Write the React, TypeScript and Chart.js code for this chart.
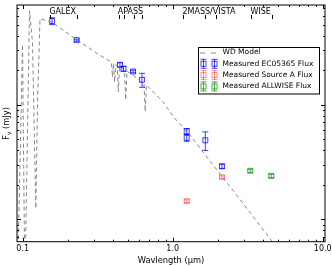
import React, { useEffect, useRef } from "react";
import { Chart, registerables } from "chart.js";
Chart.register(...registerables);

// WD model spectrum (wavelength in micron, flux in mJy)
const modelWave = [0.093, 0.0997, 0.1028, 0.1044, 0.111, 0.1162, 0.1223, 0.1256, 0.1304, 0.1568, 0.23, 0.3275, 0.39, 0.397, 0.403, 0.41, 0.4175, 0.4266, 0.434, 0.4418, 0.477, 0.486, 0.4958, 0.5437, 0.6437, 0.656, 0.668, 0.862, 1.02, 1.324, 1.857, 2.81, 5.19];
const modelFlux = [0.044, 3.36, 0.054, 0.054, 6.59, 3.49, 0.1244, 1.06, 5.62, 5.25, 3.67, 2.7, 2.35, 1.74, 2.3, 1.58, 2.23, 2.19, 1.29, 2.15, 2.0, 1.1, 1.96, 1.81, 1.52, 0.87, 1.49, 1.06, 0.773, 0.53, 0.298, 0.149, 0.052];

// Measured EC05365
const ecWave = [0.157, 0.229, 0.445, 0.47, 0.544, 0.624, 1.24, 1.24, 1.65, 2.13];
const ecFlux = [5.37, 3.66, 2.23, 2.06, 1.95, 1.65, 0.585, 0.514, 0.489, 0.29];
const ecErr = [0.37, 0.08, 0.09, 0.1, 0.05, 0.23, 0.035, 0.035, 0.09, 0.012];

// Measured Source A
const srcWave = [1.24, 2.13];
const srcFlux = [0.144, 0.233];
const srcErr = [0.004, 0.006];

// Measured ALLWISE
const wiseWave = [3.29, 4.54];
const wiseFlux = [0.265, 0.239];
const wiseErr = [0.008, 0.008];

// Photometric band markers along the top
const bandNames = ["GALEX", "APASS", "2MASS/VISTA", "WISE"];
const bandWaves = [[0.153, 0.231], [0.437, 0.47, 0.551, 0.623], [1.18, 1.64, 1.95], [3.35, 4.6]];

const xTickLabels = ["0.1", "1.0", "10.0"];
const legendLabels = ["WD Model", "Measured EC05365 Flux", "Measured Source A Flux", "Measured ALLWISE Flux"];

const X_MIN = 0.0916, X_MAX = 10.36, Y_MIN = 0.0637, Y_MAX = 7.42;
const FONT = "'DejaVu Sans', sans-serif";
const BLUE = "rgba(0,0,255,0.75)";
const RED = "rgba(255,0,0,0.45)";
const GREEN = "rgba(0,140,0,0.7)";
const GRAY = "#888888";

const groups = [
  { wave: ecWave, flux: ecFlux, err: ecErr, color: BLUE },
  { wave: srcWave, flux: srcFlux, err: srcErr, color: RED },
  { wave: wiseWave, flux: wiseFlux, err: wiseErr, color: GREEN },
];

function drawErrMarker(ctx: CanvasRenderingContext2D, x: number, y1: number, y2: number, y: number, color: string) {
  ctx.strokeStyle = color;
  ctx.lineWidth = 1;
  ctx.beginPath();
  ctx.moveTo(x, y1); ctx.lineTo(x, y2);
  ctx.moveTo(x - 3, y1); ctx.lineTo(x + 3, y1);
  ctx.moveTo(x - 3, y2); ctx.lineTo(x + 3, y2);
  ctx.stroke();
  ctx.strokeRect(x - 2.5, y - 2.5, 5, 5);
}

const decor = {
  id: "decor",
  afterDatasetsDraw(chart: any) {
    const ctx: CanvasRenderingContext2D = chart.ctx;
    const xs = chart.scales.x, ys = chart.scales.y;
    const a = chart.chartArea;
    ctx.save();
    ctx.beginPath();
    ctx.rect(a.left, a.top, a.right - a.left, a.bottom - a.top);
    ctx.clip();
    ctx.lineWidth = 1;
    for (const g of groups) {
      ctx.strokeStyle = g.color;
      ctx.beginPath();
      g.wave.forEach((w, i) => {
        const px = xs.getPixelForValue(w);
        const p1 = ys.getPixelForValue(g.flux[i] + g.err[i]);
        const p2 = ys.getPixelForValue(g.flux[i] - g.err[i]);
        ctx.moveTo(px, p1); ctx.lineTo(px, p2);
        ctx.moveTo(px - 3, p1); ctx.lineTo(px + 3, p1);
        ctx.moveTo(px - 3, p2); ctx.lineTo(px + 3, p2);
      });
      ctx.stroke();
    }
    ctx.restore();
  },
  afterDraw(chart: any) {
    const ctx: CanvasRenderingContext2D = chart.ctx;
    const xs = chart.scales.x, ys = chart.scales.y;
    const a = chart.chartArea;
    ctx.save();
    // frame
    ctx.strokeStyle = "#000";
    ctx.lineWidth = 1;
    ctx.strokeRect(a.left, a.top, a.right - a.left, a.bottom - a.top);
    // ticks
    ctx.beginPath();
    for (let d = -2; d <= 1; d++) {
      for (let m = 1; m <= 9; m++) {
        const v = m * Math.pow(10, d);
        const len = m === 1 ? 4 : 2;
        if (v >= X_MIN && v <= X_MAX) {
          const px = Math.round(xs.getPixelForValue(v)) + 0.5;
          ctx.moveTo(px, a.bottom); ctx.lineTo(px, a.bottom - len);
          ctx.moveTo(px, a.top); ctx.lineTo(px, a.top + len);
        }
        if (v >= Y_MIN && v <= Y_MAX) {
          const py = Math.round(ys.getPixelForValue(v)) + 0.5;
          ctx.moveTo(a.left, py); ctx.lineTo(a.left + len, py);
          ctx.moveTo(a.right, py); ctx.lineTo(a.right - len, py);
        }
      }
    }
    ctx.stroke();

    // band labels
    ctx.fillStyle = "#000";
    ctx.font = `8px ${FONT}`;
    ctx.textBaseline = "middle";
    ctx.textAlign = "left";
    ctx.beginPath();
    bandNames.forEach((name, i) => {
      const ws = bandWaves[i];
      const x0 = xs.getPixelForValue(ws[0]);
      ctx.fillText(name, x0 - 1, a.top + 6.5);
      ws.forEach((w) => {
        const px = Math.round(xs.getPixelForValue(w)) + 0.5;
        ctx.moveTo(px, a.top + 10); ctx.lineTo(px, a.top + 14);
      });
    });
    ctx.stroke();

    // y-axis label F_nu (mJy)
    ctx.save();
    ctx.translate(7, (a.top + a.bottom) / 2);
    ctx.rotate(-Math.PI / 2);
    const big = `8.3px ${FONT}`, small = `6px ${FONT}`;
    ctx.font = big;
    const wF = ctx.measureText("F").width;
    const wRest = ctx.measureText(" (mJy)").width;
    ctx.font = small;
    const wNu = ctx.measureText("\u03bd").width;
    let tx = -(wF + wNu + wRest) / 2;
    ctx.textAlign = "left";
    ctx.font = big;
    ctx.fillText("F", tx, 0);
    tx += wF;
    ctx.font = small;
    ctx.fillText("\u03bd", tx, 2);
    tx += wNu;
    ctx.font = big;
    ctx.fillText(" (mJy)", tx, 0);
    ctx.restore();

    // legend
    const lx = 198, ly = 47, lw = 121, lh = 46.5;
    ctx.fillStyle = "#fff";
    ctx.fillRect(lx, ly, lw, lh);
    ctx.strokeStyle = "#000";
    ctx.lineWidth = 1;
    ctx.strokeRect(lx + 0.5, ly + 0.5, lw, lh);
    const rowY = [52.5, 63.8, 75.1, 86.4];
    const colors = [GRAY, BLUE, RED, GREEN];
    // WD model dashes
    ctx.strokeStyle = GRAY;
    ctx.setLineDash([5, 6]);
    ctx.beginPath();
    ctx.moveTo(200, rowY[0] + 0.5); ctx.lineTo(217, rowY[0] + 0.5);
    ctx.stroke();
    ctx.setLineDash([]);
    for (let i = 1; i < 4; i++) {
      for (const mx of [203.5, 214.5]) {
        drawErrMarker(ctx, mx, rowY[i] - 4.5, rowY[i] + 4.5, rowY[i], colors[i]);
      }
    }
    ctx.fillStyle = "#000";
    ctx.font = `7.5px ${FONT}`;
    ctx.textAlign = "left";
    ctx.textBaseline = "middle";
    legendLabels.forEach((t, i) => ctx.fillText(t, 222.5, rowY[i]));
    ctx.restore();
  },
};

export default function App() {
  const ref = useRef<HTMLCanvasElement>(null);
  useEffect(() => {
    document.body.style.margin = "0";
    Chart.defaults.font.family = FONT;
    const pts = (w: number[], f: number[]) => w.map((x, i) => ({ x, y: f[i] }));
    const chart = new Chart(ref.current as HTMLCanvasElement, {
      type: "scatter",
      data: {
        datasets: [
          {
            label: legendLabels[0],
            data: pts(modelWave, modelFlux),
            showLine: true,
            borderColor: GRAY,
            borderWidth: 1,
            borderDash: [4, 3],
            pointRadius: 0,
            tension: 0,
            fill: false,
          },
          {
            label: legendLabels[1],
            data: pts(ecWave, ecFlux),
            pointStyle: "rect",
            pointRadius: 3.5,
            borderColor: BLUE,
            backgroundColor: "rgba(0,0,0,0)",
            borderWidth: 1,
          },
          {
            label: legendLabels[2],
            data: pts(srcWave, srcFlux),
            pointStyle: "rect",
            pointRadius: 3.5,
            borderColor: RED,
            backgroundColor: "rgba(0,0,0,0)",
            borderWidth: 1,
          },
          {
            label: legendLabels[3],
            data: pts(wiseWave, wiseFlux),
            pointStyle: "rect",
            pointRadius: 3.5,
            borderColor: GREEN,
            backgroundColor: "rgba(0,0,0,0)",
            borderWidth: 1,
          },
        ],
      },
      options: {
        responsive: false,
        animation: false,
        devicePixelRatio: 1,
        layout: { padding: { left: 17, top: 2, right: 7, bottom: 0 } },
        plugins: { legend: { display: false }, tooltip: { enabled: false } },
        scales: {
          x: {
            type: "logarithmic",
            position: "bottom",
            min: X_MIN,
            max: X_MAX,
            grid: { display: false, drawTicks: false },
            border: { display: false },
            ticks: {
              autoSkip: false,
              maxRotation: 0,
              padding: 2,
              color: "#000",
              font: { size: 8, family: FONT },
              callback: (v: any) => {
                const l = Math.log10(Number(v));
                if (Math.abs(l - Math.round(l)) < 1e-6) {
                  const idx = Math.round(l) + 1;
                  return xTickLabels[idx] ?? "";
                }
                return "";
              },
            },
            title: {
              display: true,
              text: "Wavlength (\u03bcm)",
              color: "#000",
              font: { size: 8.3, family: FONT },
              padding: { top: 0, bottom: 0.5 },
            },
            afterFit: (s: any) => { s.height = 24.3; },
          },
          y: {
            type: "logarithmic",
            min: Y_MIN,
            max: Y_MAX,
            display: false,
          },
        },
      } as any,
      plugins: [decor],
    });
    return () => chart.destroy();
  }, []);
  return (
    <div style={{ position: "absolute", left: 0, top: 0, width: 332, height: 266 }}>
      <canvas ref={ref} width={332} height={266} style={{ width: 332, height: 266, display: "block" }} />
    </div>
  );
}
